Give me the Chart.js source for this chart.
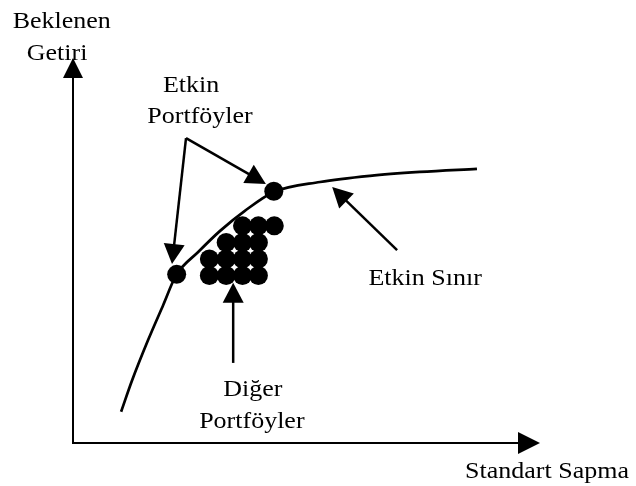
<!DOCTYPE html>
<html><head><meta charset="utf-8">
<script src="https://cdn.jsdelivr.net/npm/chart.js@4/dist/chart.umd.min.js"></script>
<style>html,body{margin:0;padding:0;background:#fff;overflow:hidden}</style>
</head><body>
<canvas id="c" width="636" height="486"></canvas>
<script>
// Efficient frontier curve (standard deviation, expected return) in chart units
const frontierX = [10.3, 12.6, 16.1, 19.3, 22.1, 26.8, 31.5, 36.8, 43.0, 52.9, 63.6, 74.3, 86.5];
const frontierY = [8.1, 16.1, 26.8, 35.8, 43.6, 49.6, 55.1, 60.3, 65.2, 67.8, 69.4, 70.4, 71.2];
// Efficient portfolios (on the frontier)
const efficientX = [22.2, 43.0];
const efficientY = [43.8, 65.4];
// Other (inefficient) portfolios
const otherX = [36.3, 39.7, 43.1, 32.8, 36.3, 39.7, 29.2, 32.8, 36.3, 39.7, 29.2, 32.8, 36.3, 39.7];
const otherY = [56.4, 56.4, 56.4, 52.1, 52.1, 52.1, 47.8, 47.8, 47.8, 47.8, 43.5, 43.5, 43.5, 43.5];
// Text labels
const labelTexts = ["Beklenen", "Getiri", "Etkin", "Portföyler", "Etkin Sınır", "Diğer", "Portföyler", "Standart Sapma"];
const labelX = [-2.4, -3.4, 25.3, 27.2, 75.4, 38.5, 38.3, 101.5];
const labelY = [107.8, 99.5, 91.2, 83.1, 41.0, 12.2, 3.9, -9.1];
// Annotation arrows: tail -> tip
const arrowTailX = [24.2, 24.2, 69.4, 34.3];
const arrowTailY = [79.2, 79.2, 50.1, 20.8];
const arrowTipX = [21.2, 41.3, 55.5, 34.3];
const arrowTipY = [46.5, 67.3, 66.5, 41.6];

const pts = (xs, ys) => xs.map((x, i) => ({x: x, y: ys[i]}));

function arrow(ctx, x1, y1, x2, y2, len, halfW, lw) {
  const dx = x2 - x1, dy = y2 - y1, d = Math.hypot(dx, dy);
  const ux = dx / d, uy = dy / d;
  const bx = x2 - ux * len, by = y2 - uy * len;
  ctx.lineWidth = lw;
  ctx.beginPath(); ctx.moveTo(x1, y1); ctx.lineTo(bx + ux * 2, by + uy * 2); ctx.stroke();
  ctx.beginPath();
  ctx.moveTo(x2, y2);
  ctx.lineTo(bx - uy * halfW, by + ux * halfW);
  ctx.lineTo(bx + uy * halfW, by - ux * halfW);
  ctx.closePath(); ctx.fill();
}

const decor = {
  id: 'decor',
  beforeDatasetsDraw(chart) {
    const ctx = chart.ctx, xs = chart.scales.x, ys = chart.scales.y;
    ctx.save();
    ctx.strokeStyle = '#000'; ctx.fillStyle = '#000'; ctx.lineCap = 'butt';
    const ox = xs.getPixelForValue(0), oy = ys.getPixelForValue(0);
    arrow(ctx, ox, oy + 1, ox, ys.getPixelForValue(100), 20, 10, 2);
    arrow(ctx, ox - 1, oy, xs.getPixelForValue(100), oy, 22, 11, 2);
    ctx.restore();
  },
  afterDraw(chart) {
    const ctx = chart.ctx, xs = chart.scales.x, ys = chart.scales.y;
    ctx.save();
    ctx.strokeStyle = '#000'; ctx.fillStyle = '#000';
    for (let i = 0; i < arrowTailX.length; i++) {
      arrow(ctx, xs.getPixelForValue(arrowTailX[i]), ys.getPixelForValue(arrowTailY[i]),
            xs.getPixelForValue(arrowTipX[i]), ys.getPixelForValue(arrowTipY[i]), 20, 10.5, 2.5);
    }
    ctx.font = '23px "Liberation Serif", "Times New Roman", serif';
    ctx.textAlign = 'center'; ctx.textBaseline = 'alphabetic';
    for (let i = 0; i < labelTexts.length; i++) {
      ctx.save();
      ctx.translate(xs.getPixelForValue(labelX[i]), ys.getPixelForValue(labelY[i]));
      ctx.scale(1.13, 1);
      ctx.fillText(labelTexts[i], 0, 0);
      ctx.restore();
    }
    ctx.restore();
  }
};

new Chart(document.getElementById('c'), {
  type: 'scatter',
  data: {
    datasets: [
      { label: 'Etkin Sınır', data: pts(frontierX, frontierY), showLine: true,
        borderColor: '#000', borderWidth: 2.7, pointRadius: 0, fill: false,
        cubicInterpolationMode: 'monotone', clip: false },
      { label: 'Diğer Portföyler', data: pts(otherX, otherY), showLine: false,
        backgroundColor: '#000', borderColor: '#000', borderWidth: 0, pointRadius: 9.5, clip: false },
      { label: 'Etkin Portföyler', data: pts(efficientX, efficientY), showLine: false,
        backgroundColor: '#000', borderColor: '#000', borderWidth: 0, pointRadius: 9.5, clip: false }
    ]
  },
  options: {
    responsive: false, animation: false, events: [],
    layout: { padding: { left: 73, right: 96, top: 58, bottom: 43 } },
    plugins: { legend: { display: false }, tooltip: { enabled: false } },
    scales: {
      x: { type: 'linear', min: 0, max: 100, display: false },
      y: { type: 'linear', min: 0, max: 100, display: false }
    }
  },
  plugins: [decor]
});
</script>
</body></html>
